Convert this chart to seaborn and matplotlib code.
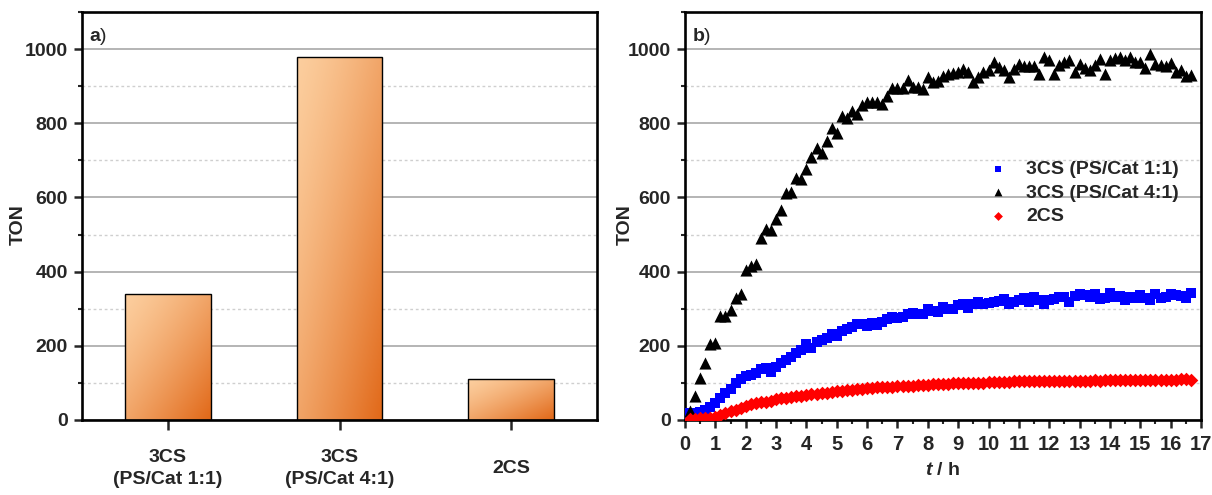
import numpy as np
import pandas as pd
import matplotlib
matplotlib.use("Agg")
import matplotlib.pyplot as plt
from matplotlib.ticker import MultipleLocator
import seaborn as sns

# ---------------- data ----------------
systems = ["3CS\n(PS/Cat 1:1)", "3CS\n(PS/Cat 4:1)", "2CS"]
ton_final = [340, 980, 110]

# sampling every 10 min
minutes = np.arange(10, 1010, 10)

ton_3cs_11 = [18, 20, 22, 27, 36, 45, 58, 72, 83, 99,
              110, 119, 121, 128, 137, 139, 130, 142, 155, 162,
              171, 180, 190, 205, 193, 211, 216, 220, 232, 226,
              240, 244, 250, 259, 259, 253, 262, 256, 265, 271,
              278, 276, 278, 286, 289, 286, 286, 298, 295, 292,
              305, 298, 298, 310, 312, 303, 312, 319, 314, 316,
              319, 321, 325, 314, 319, 323, 328, 319, 332, 323,
              314, 323, 325, 332, 332, 319, 334, 340, 337, 332,
              340, 325, 328, 343, 332, 334, 323, 332, 328, 337,
              328, 323, 340, 328, 332, 340, 337, 334, 328, 343]

ton_3cs_41 = [25, 65, 114, 153, 204, 208, 280, 280, 296, 330,
              339, 404, 414, 421, 490, 514, 512, 541, 566, 611,
              615, 653, 649, 676, 708, 732, 720, 752, 786, 774,
              819, 813, 833, 825, 849, 858, 858, 858, 851, 874,
              894, 894, 894, 918, 897, 899, 892, 926, 912, 914,
              927, 933, 936, 939, 945, 939, 912, 925, 939, 943,
              966, 952, 943, 925, 945, 961, 954, 954, 954, 934,
              978, 970, 934, 957, 966, 970, 939, 959, 948, 943,
              957, 972, 932, 970, 975, 979, 970, 979, 966, 966,
              948, 986, 961, 957, 954, 963, 939, 943, 927, 930]

ton_2cs = [4, 4, 5, 5, 6, 8, 13, 18, 24, 28,
           33, 38, 42, 45, 48, 49, 52, 56, 58, 60,
           62, 64, 66, 68, 70, 71, 73, 74, 75, 77,
           78, 80, 82, 83, 84, 85, 87, 88, 88, 90,
           90, 91, 92, 92, 93, 94, 95, 95, 96, 97,
           97, 98, 99, 99, 100, 100, 101, 101, 101, 102,
           102, 103, 103, 103, 104, 104, 104, 104, 105, 105,
           105, 105, 105, 105, 106, 106, 106, 106, 106, 106,
           107, 106, 107, 107, 107, 107, 107, 108, 107, 108,
           108, 108, 108, 109, 108, 109, 109, 110, 110, 108]

series_names = ["3CS (PS/Cat 1:1)", "3CS (PS/Cat 4:1)", "2CS"]
series_values = [ton_3cs_11, ton_3cs_41, ton_2cs]

# ---------------- style ----------------
sns.set_style("ticks")
plt.rcParams["font.family"] = ["Liberation Sans", "DejaVu Sans"]
plt.rcParams["font.weight"] = "bold"
plt.rcParams["mathtext.fontset"] = "custom"
plt.rcParams["mathtext.rm"] = "Liberation Sans"
plt.rcParams["mathtext.bf"] = "Liberation Sans:bold"
plt.rcParams["mathtext.it"] = "Liberation Sans:italic"
plt.rcParams["mathtext.bfit"] = "Liberation Sans:bold:italic"

FS = 14
SPINE_W = 1.9
MAJOR_GRID = dict(color="#a8a8a8", linewidth=1.2, linestyle="-")
MINOR_GRID = dict(color="#cfcfcf", linewidth=1.0, linestyle=(0, (2, 2)))

fig = plt.figure(figsize=(12.12, 4.95), dpi=100)
W, H = 1212, 495
ax_a = fig.add_axes([82 / W, 1 - 420 / H, 515 / W, 408 / H])
ax_b = fig.add_axes([685 / W, 1 - 420 / H, 516 / W, 408 / H])


def style_axes(ax):
    for sp in ax.spines.values():
        sp.set_linewidth(SPINE_W)
        sp.set_color("black")
        sp.set_visible(True)
    ax.set_axisbelow(True)
    ax.yaxis.set_major_locator(MultipleLocator(200))
    ax.yaxis.set_minor_locator(MultipleLocator(100))
    ax.grid(True, axis="y", which="major", **MAJOR_GRID)
    ax.grid(True, axis="y", which="minor", **MINOR_GRID)
    ax.grid(False, axis="x", which="both")
    ax.tick_params(axis="both", which="major", direction="out", length=6,
                   width=1.8, labelsize=FS, pad=4, right=False, top=False)
    ax.tick_params(axis="both", which="minor", direction="out", length=3,
                   width=1.5, right=False, top=False)
    for lab in ax.get_yticklabels():
        lab.set_fontweight("bold")


# ---------------- panel a: bars ----------------
df_a = pd.DataFrame({"system": systems, "TON": ton_final})
sns.barplot(data=df_a, x="system", y="TON", order=systems, width=0.5,
            color="#F0A070", edgecolor="black", linewidth=1.0, ax=ax_a)

light = np.array([252, 206, 158]) / 255.0
dark = np.array([225, 104, 24]) / 255.0
nx, ny = 60, 200
u = np.linspace(0, 1, nx)[None, :]
v = np.linspace(0, 1, ny)[:, None]
tgrad = np.clip((u + v) / 2.0, 0, 1)
tgrad = tgrad ** 1.3
img = light[None, None, :] * (1 - tgrad[..., None]) + dark[None, None, :] * tgrad[..., None]

for patch in ax_a.patches:
    x0, y0 = patch.get_x(), patch.get_y()
    w, h = patch.get_width(), patch.get_height()
    patch.set_facecolor("none")
    patch.set_zorder(3)
    im = ax_a.imshow(img, extent=[x0, x0 + w, y0, y0 + h], origin="upper",
                     aspect="auto", interpolation="bilinear", zorder=2)
    im.set_clip_path(patch)

style_axes(ax_a)
ax_a.set_xlim(-0.5, 2.5)
ax_a.set_ylim(0, 1100)
ax_a.set_xlabel("")
ax_a.set_ylabel("TON", fontsize=FS, fontweight="bold")
ax_a.yaxis.set_label_coords(-0.107, 0.48)
ax_a.tick_params(axis="x", which="major", length=7, pad=28)
for lab in ax_a.get_xticklabels():
    lab.set_fontweight("bold")
    lab.set_fontsize(FS)
    lab.set_verticalalignment("center")
    lab.set_linespacing(1.38)
    lab.set_multialignment("center")
ax_a.text(0.014, 0.94, r"$\mathbf{a}$)", transform=ax_a.transAxes,
          fontsize=FS, fontweight="normal", va="center", ha="left")

# ---------------- panel b: kinetics ----------------
df_b = pd.concat([
    pd.DataFrame({"t": minutes / 60.0, "TON": vals, "system": name})
    for name, vals in zip(series_names, series_values)
], ignore_index=True)

marker_styles = {
    "3CS (PS/Cat 1:1)": dict(marker="s", color="#0000FF", s=56),
    "3CS (PS/Cat 4:1)": dict(marker="^", color="#000000", s=76),
    "2CS": dict(marker="D", color="#FF0000", s=48),
}
for name in series_names:
    st = marker_styles[name]
    sns.scatterplot(data=df_b[df_b["system"] == name], x="t", y="TON",
                    marker=st["marker"], color=st["color"], s=st["s"],
                    linewidth=0, label=name, ax=ax_b, zorder=3)

style_axes(ax_b)
ax_b.set_xlim(0, 17)
ax_b.set_ylim(0, 1100)
ax_b.xaxis.set_major_locator(MultipleLocator(1))
ax_b.xaxis.set_minor_locator(MultipleLocator(0.5))
ax_b.tick_params(axis="x", which="major", length=6, pad=5, labelsize=FS + 0.5)
for lab in ax_b.get_xticklabels():
    lab.set_fontweight("bold")
ax_b.set_ylabel("TON", fontsize=FS, fontweight="bold")
ax_b.yaxis.set_label_coords(-0.099, 0.48)
ax_b.set_xlabel(r"$\mathbfit{t}$ / h", fontsize=FS, fontweight="bold")
ax_b.xaxis.set_label_coords(0.5, -0.103)
ax_b.text(0.014, 0.94, r"$\mathbf{b}$)", transform=ax_b.transAxes,
          fontsize=FS, fontweight="normal", va="center", ha="left")

leg = ax_b.legend(loc="upper left", bbox_to_anchor=(0.588, 0.636),
                  frameon=False, fontsize=FS, handlelength=1.0,
                  handletextpad=0.95, labelspacing=0.3, borderpad=0,
                  borderaxespad=0, markerscale=0.65)
for txt in leg.get_texts():
    txt.set_fontweight("bold")

fig.savefig("out.png", dpi=100)
